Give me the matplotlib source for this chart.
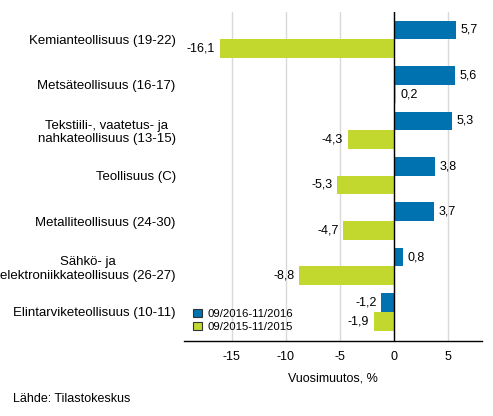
import matplotlib
matplotlib.use("Agg")
import matplotlib.pyplot as plt
import numpy as np

plt.rcParams['font.family'] = ['Liberation Sans', 'DejaVu Sans']

categories = [
    "Kemianteollisuus (19-22)",
    "Metsäteollisuus (16-17)",
    "Tekstiili-, vaatetus- ja\nnahkateollisuus (13-15)",
    "Teollisuus (C)",
    "Metalliteollisuus (24-30)",
    "Sähkö- ja\nelektroniikkateollisuus (26-27)",
    "Elintarviketeollisuus (10-11)",
]
series_2016 = [5.7, 5.6, 5.3, 3.8, 3.7, 0.8, -1.2]
series_2015 = [-16.1, 0.2, -4.3, -5.3, -4.7, -8.8, -1.9]
series_names = ["09/2016-11/2016", "09/2015-11/2015"]
xticks = [-15, -10, -5, 0, 5]

blue = "#0072b0"
green = "#c2d82f"

fig = plt.figure(figsize=(4.93, 4.16), dpi=100)
ax = fig.add_axes([184/493, 1-341/416, (482-184)/493, (341-12)/416])

y = np.arange(len(categories))
h = 0.41
b1 = ax.barh(y - h/2, series_2016, height=h, color=blue, label=series_names[0], zorder=3)
b2 = ax.barh(y + h/2, series_2015, height=h, color=green, label=series_names[1], zorder=3)

def fmt(v):
    return f"{v:.1f}".replace(".", ",")

for bars, vals in ((b1, series_2016), (b2, series_2015)):
    for rect, v in zip(bars, vals):
        cy = rect.get_y() + rect.get_height()/2
        if v >= 0:
            ax.annotate(fmt(v), (v, cy), xytext=(3.2, 0), textcoords="offset points",
                        ha="left", va="center", fontsize=9, color="#000000")
        else:
            ax.annotate(fmt(v), (v, cy), xytext=(-3.2, 0), textcoords="offset points",
                        ha="right", va="center", fontsize=9, color="#000000")

ax.set_xlim(-19.4, 8.1)
ax.set_ylim(6.64, -0.60)
ax.set_xticks(xticks)
ax.set_xticklabels([str(t) for t in xticks], fontsize=9)
ax.set_yticks(y)
ax.set_yticklabels(categories, fontsize=9.5, ha="right", multialignment="center")
ax.tick_params(axis="y", length=0, pad=6)
ax.tick_params(axis="x", length=0, pad=7)

ax.grid(axis="x", color="#d9d9d9", linewidth=1, zorder=0)
ax.axvline(0, color="#000000", linewidth=1, zorder=4)
for s in ("top", "right", "left"):
    ax.spines[s].set_visible(False)
ax.spines["bottom"].set_color("#000000")
ax.spines["bottom"].set_linewidth(1)

ax.set_xlabel("Vuosimuutos, %", fontsize=9, labelpad=7)

leg = ax.legend(loc="lower left", bbox_to_anchor=(0.0, 0.0), frameon=False, fontsize=8.2,
                handlelength=0.75, handleheight=0.75, handletextpad=0.5, labelspacing=0.25,
                borderaxespad=0.4)
for p in leg.get_patches():
    p.set_edgecolor("#333333")
    p.set_linewidth(0.8)

fig.text(13/493, 1-399/416, "Lähde: Tilastokeskus", fontsize=9, ha="left", va="center")

fig.savefig("out.png", dpi=100)
